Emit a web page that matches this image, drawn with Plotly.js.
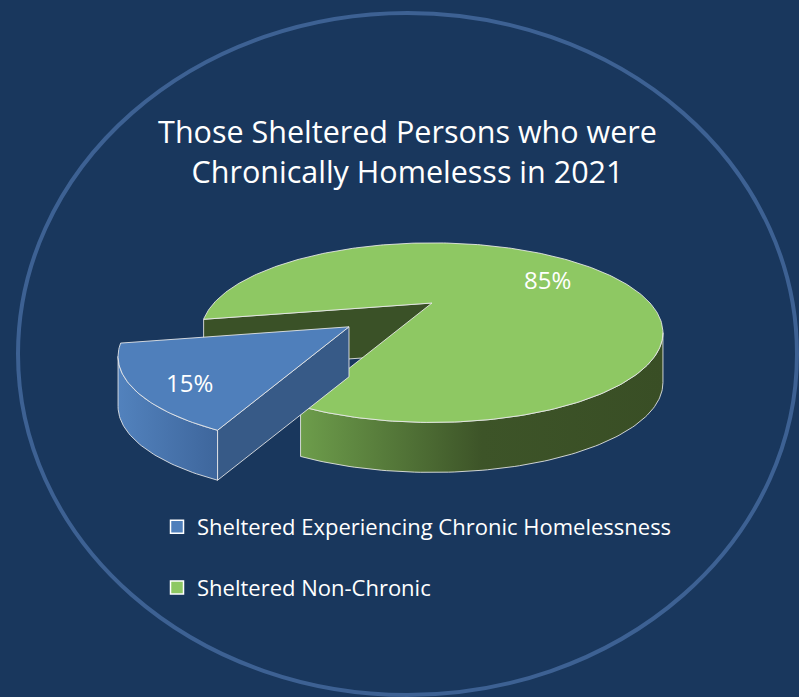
<!DOCTYPE html>
<html><head><meta charset="utf-8">
<script src="https://cdn.plot.ly/plotly-3.0.1.min.js"></script>
<style>html,body{margin:0;padding:0;background:#19375d;}#chart{width:799px;height:697px;}</style>
</head><body><div id="chart"></div>
<script>
// ---- data ----
const categories = ['Sheltered Experiencing Chronic Homelessness', 'Sheltered Non-Chronic'];
const values = [15, 85];
const titleLines = ['Those Sheltered Persons who were', 'Chronically Homelesss in 2021'];

// ---- styles ----
const topColors = ['#4f7fbb', '#8ec863'];
const wallScales = [
  [[0, '#5282bd'], [1, '#3e669c']],
  [[0, '#6d9d4b'], [0.5, '#3d5428'], [1, '#394e25']]
];
const sideColors = ['#375a87', '#3a5127'];
const explode = [0.44, 0];

const W = 799, H = 697;
const CX = 432, CY = 303, RA = 218, RB = 80, K = 0.33, DEPTH = 50, START = 245;
const EDGE = 'rgba(235,235,235,0.85)';
const FONT = '"Open Sans", Lato, sans-serif';

function rad(d) { return d * Math.PI / 180; }
function proj(u, v) { const d = 1 + K * v; return [CX + RA * u / d, CY - RB * v / d]; }

const total = values.reduce((a, b) => a + b, 0);
let ang = START;
const slices = values.map((v, i) => {
  const a0 = ang, a1 = ang - 360 * v / total; ang = a1;
  const mid = (a0 + a1) / 2;
  const c = proj(explode[i] * Math.cos(rad(mid)), explode[i] * Math.sin(rad(mid)));
  return { i, v, a0, a1, mid, off: [c[0] - CX, c[1] - CY] };
});
function rim(s, t, dz) { const p = proj(Math.cos(rad(t)), Math.sin(rad(t))); return [p[0] + s.off[0], p[1] + s.off[1] + dz]; }
function apex(s, dz) { return [CX + s.off[0], CY + s.off[1] + dz]; }
function arc(s, from, to, dz) {
  const n = Math.max(2, Math.ceil(Math.abs(to - from)));
  const pts = [];
  for (let k = 0; k <= n; k++) pts.push(rim(s, from + (to - from) * k / n, dz));
  return pts;
}

const traces = [];
function poly(pts, extra) {
  traces.push(Object.assign({
    type: 'scatter', mode: 'lines', x: pts.map(p => p[0]), y: pts.map(p => p[1]),
    fill: 'toself', line: { color: EDGE, width: 1 }, hoverinfo: 'skip', showlegend: false
  }, extra));
}

// silhouette of the projected rim: visible outer wall where sin(t) < -K
const SIL = Math.asin(K) * 180 / Math.PI;
const order = slices.slice().sort((a, b) => Math.sin(rad(b.mid)) - Math.sin(rad(a.mid)));
order.forEach(s => {
  const radial = t => poly([apex(s, 0), rim(s, t, 0), rim(s, t, DEPTH), apex(s, DEPTH), apex(s, 0)], { fillcolor: sideColors[s.i] });
  if (Math.cos(rad(s.a0)) < 0) radial(s.a0);
  if (Math.cos(rad(s.a1)) > 0) radial(s.a1);
  for (let n = -2; n <= 1; n++) {
    const lo = 180 + SIL + 360 * n, hi = 360 - SIL + 360 * n;
    const t0 = Math.max(s.a1, lo), t1 = Math.min(s.a0, hi);
    if (t1 > t0) {
      const pts = arc(s, t0, t1, 0).concat(arc(s, t1, t0, DEPTH));
      pts.push(pts[0]);
      poly(pts, { fillgradient: { type: 'horizontal', colorscale: wallScales[s.i] } });
    }
  }
  const top = [apex(s, 0)].concat(arc(s, s.a0, s.a1, 0));
  top.push(apex(s, 0));
  poly(top, { fillcolor: topColors[s.i] });
});

// legend entries
categories.forEach((c, i) => traces.push({
  type: 'scatter', mode: 'markers', x: [null], y: [null], name: c, legendgroup: 'g' + i,
  marker: { symbol: 'square', size: 13, color: topColors[i], line: { color: '#ffffff', width: 1.5 } },
  hoverinfo: 'skip'
}));

const LABEL_R = 0.78, LABEL_DY = 10;
const labels = slices.map(s => {
  const p = proj(LABEL_R * Math.cos(rad(s.mid)), LABEL_R * Math.sin(rad(s.mid)));
  return {
    x: p[0] + s.off[0], y: p[1] + s.off[1] + LABEL_DY, xref: 'x', yref: 'y',
    text: Math.round(100 * s.v / total) + '%', showarrow: false,
    font: { family: FONT, size: 24, color: '#ffffff' }
  };
});

const layout = {
  width: W, height: H, margin: { l: 0, r: 0, t: 0, b: 0, pad: 0 },
  paper_bgcolor: '#19375d', plot_bgcolor: '#19375d',
  xaxis: { range: [0, W], visible: false, fixedrange: true },
  yaxis: { range: [H, 0], visible: false, fixedrange: true },
  title: {
    text: titleLines.join('<br>'), font: { family: FONT, size: 30.5, color: '#ffffff' },
    x: 0.51, xanchor: 'center', xref: 'paper', y: 1 - 143 / H, yanchor: 'middle', yref: 'paper'
  },
  showlegend: true,
  legend: {
    x: 157 / W, xanchor: 'left', y: 1 - 506 / H, yanchor: 'top', bgcolor: 'rgba(0,0,0,0)',
    font: { family: FONT, size: 22, color: '#ffffff' }, tracegroupgap: 29, traceorder: 'grouped'
  },
  shapes: [{ type: 'circle', xref: 'x', yref: 'y', x0: 18, x1: 797, y0: 13, y1: 695, line: { color: '#3d6193', width: 4 }, layer: 'below' }],
  annotations: labels
};

Plotly.newPlot('chart', traces, layout, { staticPlot: true, displayModeBar: false });
</script></body></html>
